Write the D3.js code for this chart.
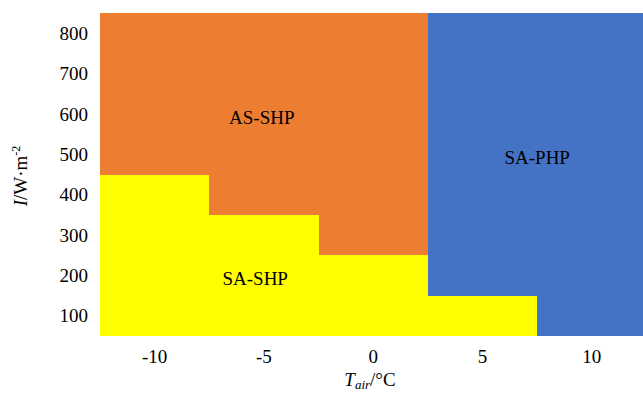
<!DOCTYPE html>
<html>
<head>
<meta charset="utf-8">
<script src="https://cdn.jsdelivr.net/npm/d3@7"></script>
<style>
  body { margin: 0; background: #fff; }
  text { font-family: "Liberation Serif", "Times New Roman", serif; fill: #000; }
</style>
</head>
<body>
<div id="chart"></div>
<script>
const W = 643, H = 393;
const margin = {top: 13, right: -3.5, bottom: 57, left: 100};

const temps = [-10, -5, 0, 5, 10];
// yellow (SA-SHP) upper bound per column
const shpTop = [450, 350, 250, 150, 50];
// orange (AS-SHP) upper bound per column
const asTop = [850, 850, 850, 150, 50];
const yMin = 50, yMax = 850;
const yTicks = [100, 200, 300, 400, 500, 600, 700, 800];

const regions = [
  {name: "AS-SHP", x: -5, xi: 0.48, y: 585},
  {name: "SA-PHP", x: 5, xi: 1.0, y: 487},
  {name: "SA-SHP", x: -5, xi: 0.42, y: 186}
];

const colors = {shp: "#FFFF00", as: "#ED7D31", php: "#4472C4"};

const svg = d3.select("#chart").append("svg")
  .attr("width", W).attr("height", H);

const x = d3.scaleBand()
  .domain(temps)
  .range([margin.left, W - margin.right])
  .padding(0);

const y = d3.scaleLinear()
  .domain([yMin, yMax])
  .range([H - margin.bottom, margin.top]);

const segs = [];
temps.forEach((t, i) => {
  segs.push({t, y0: yMin, y1: shpTop[i], c: colors.shp});
  segs.push({t, y0: shpTop[i], y1: asTop[i], c: colors.as});
  segs.push({t, y0: asTop[i], y1: yMax, c: colors.php});
});

svg.append("g")
  .attr("shape-rendering", "crispEdges")
  .selectAll("rect")
  .data(segs.filter(d => d.y1 > d.y0))
  .join("rect")
  .attr("x", d => Math.round(x(d.t)))
  .attr("width", d => Math.round(x(d.t) + x.bandwidth()) - Math.round(x(d.t)))
  .attr("y", d => Math.round(y(d.y1)))
  .attr("height", d => Math.round(y(d.y0)) - Math.round(y(d.y1)))
  .attr("fill", d => d.c);

// region labels
svg.append("g").selectAll("text")
  .data(regions)
  .join("text")
  .attr("x", d => x(d.x) + x.bandwidth() * d.xi)
  .attr("y", d => y(d.y))
  .attr("text-anchor", "middle")
  .attr("dominant-baseline", "middle")
  .style("font-size", "19px")
  .text(d => d.name);

// axes (labels only)
const gx = svg.append("g")
  .attr("transform", `translate(0,${H - margin.bottom})`)
  .call(d3.axisBottom(x).tickSize(0).tickPadding(14));
const gy = svg.append("g")
  .attr("transform", `translate(${margin.left},0)`)
  .call(d3.axisLeft(y).tickValues(yTicks).tickSize(0).tickPadding(12));
[gx, gy].forEach(g => {
  g.select(".domain").remove();
  g.selectAll("text").style("font-size", "19px").style("font-family", "Liberation Serif, serif");
});

// axis titles
const xt = svg.append("text")
  .attr("x", 370).attr("y", 386)
  .attr("text-anchor", "middle")
  .style("font-size", "19px");
xt.append("tspan").style("font-style", "italic").text("T");
xt.append("tspan").style("font-style", "italic").style("font-size", "13px").attr("dy", 3).text("air");
xt.append("tspan").attr("dy", -3).text("/°C");

const yt = svg.append("text")
  .attr("transform", "translate(27,176) rotate(-90)")
  .attr("text-anchor", "middle")
  .style("font-size", "19px");
yt.append("tspan").style("font-style", "italic").text("I");
yt.append("tspan").text("/W·m");
yt.append("tspan").style("font-size", "12px").attr("dy", -7).text("-2");
</script>
</body>
</html>
